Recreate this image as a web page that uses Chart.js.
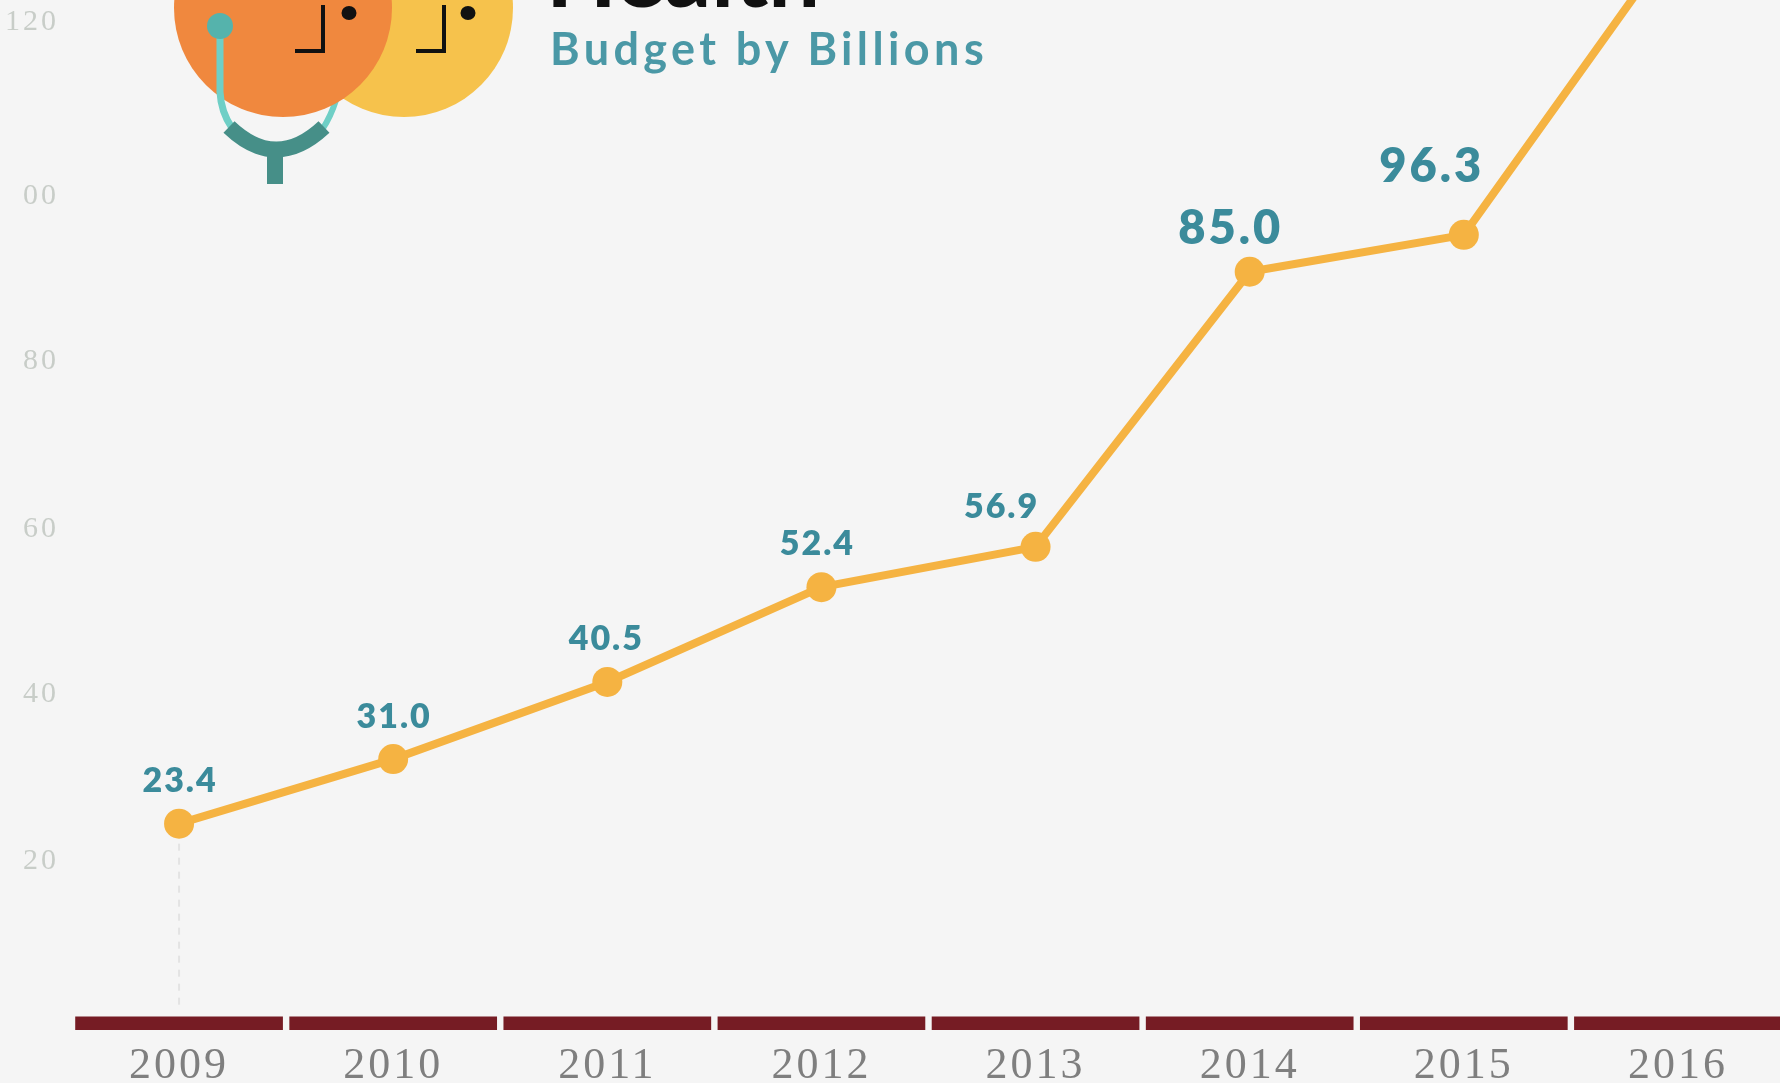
<!DOCTYPE html>
<html>
<head>
<meta charset="utf-8">
<title>Health - Budget by Billions</title>
<script src="https://cdn.jsdelivr.net/npm/chart.js@4/dist/chart.umd.min.js"></script>
<style>
    html, body { margin: 0; padding: 0; background: #f5f5f5; overflow: hidden; }
    #wrap { position: relative; width: 1780px; height: 1083px; overflow: hidden; }
    /* the canvas hangs off the page on top and right, the picture is a crop of a larger chart */
    canvas { position: absolute; left: 0; top: -15px; }
    svg { position: absolute; left: 0; top: 0; }
    .title { position: absolute; left: 546px; top: -78px; font: 700 92px/100px Lato, sans-serif; color: #111; white-space: nowrap; }
    .subtitle { position: absolute; left: 550px; top: 23px; font: 700 45px/50px Lato, sans-serif; letter-spacing: 4.4px; color: #4a98a6; white-space: nowrap; }
</style>
</head>
<body>
<div id="wrap">
    <canvas id="budgetChart" width="1800" height="1098"></canvas>
    <svg width="1780" height="1083">
        <ellipse cx="404" cy="8" rx="109" ry="109" fill="#f6c24c"/>
        <path d="M336 100 Q331 116 322 130" fill="none" stroke="#6fcfc6" stroke-width="6"/>
        <ellipse cx="283" cy="8" rx="109" ry="109" fill="#f0883e"/>
        <path d="M220 30 L220 92 Q221 112 232 128" fill="none" stroke="#6fcfc6" stroke-width="7"/>
        <ellipse cx="220" cy="26" rx="13" ry="13" fill="#55b3ac"/>
        <path d="M229 127 Q276 172 324 127" fill="none" stroke="#468f88" stroke-width="16"/>
        <rect x="267" y="150" width="16" height="34" fill="#468f88"/>
        <path d="M323 5 L323 51 L295 51" fill="none" stroke="#111" stroke-width="4"/>
        <ellipse cx="349" cy="13" rx="7.5" ry="7" fill="#111"/>
        <path d="M444 5 L444 51 L416 51" fill="none" stroke="#111" stroke-width="4"/>
        <ellipse cx="468" cy="13" rx="7.5" ry="7" fill="#111"/>
    </svg>
    <div class="title">Health</div>
    <div class="subtitle">Budget by Billions</div>
</div>

<script>
// the markers sit where they sit, the printed labels say something else for 2014/2015
const years = ['2009', '2010', '2011', '2012', '2013', '2014', '2015', '2016'];
const budgetValues = [24.1, 31.8, 41, 52.3, 57.1, 89.9, 94.3, 130];
const printedLabels = ['23.4', '31.0', '40.5', '52.4', '56.9', '85.0', '96.3', null];
// the ticks are not evenly spaced in the picture either
const yTickValues = [19.6, 39.6, 59.2, 79.3, 98.9, 119.7];
const yTickLabels = ['20', '40', '60', '80', '00', '120'];
const axisBand = [[-0.5, 1.1], [-0.5, 1.1], [-0.5, 1.1], [-0.5, 1.1], [-0.5, 1.1], [-0.5, 1.1], [-0.5, 1.1], [-0.5, 1.1]];

const TEAL = '#3b8b9b';
const ORANGE = '#f5b342';

// x/y nudge of every value label against its marker
const labelNudge = [[1, 43], [1, 42], [-1, 43], [-4, 43], [-34, 40], [-19, 43], [-32, 68]];

// the picture's serif digits are set wide, this carries over to the axis ticks
const wideTicks = {
    id: 'wideTicks',
    beforeDraw(chart) {
        chart.ctx.letterSpacing = '3px';
    }
};

const valueLabels = {
    id: 'valueLabels',
    afterDatasetsDraw(chart) {
        const ctx = chart.ctx;
        const meta = chart.getDatasetMeta(1);
        ctx.save();
        ctx.fillStyle = TEAL;
        ctx.textAlign = 'center';
        ctx.textBaseline = 'middle';
        printedLabels.forEach((txt, i) => {
            if (!txt) return;
            const pt = meta.data[i];
            ctx.font = (i >= 5 ? '800 47px' : '800 34px') + ' Lato, sans-serif';
            ctx.letterSpacing = i >= 5 ? '3px' : '2px';
            ctx.fillText(txt, pt.x + labelNudge[i][0], pt.y - labelNudge[i][1]);
        });
        ctx.restore();
    }
};

// faint dashed drop line under the first point only
const dropLine = {
    id: 'dropLine',
    beforeDatasetsDraw(chart) {
        const ctx = chart.ctx;
        const x = chart.scales.x.getPixelForValue(0);
        const y = chart.scales.y;
        ctx.save();
        ctx.strokeStyle = '#e3e3e3';
        ctx.lineWidth = 2;
        ctx.setLineDash([7, 7]);
        ctx.beginPath();
        ctx.moveTo(x, y.getPixelForValue(budgetValues[0]) + 20);
        ctx.lineTo(x, y.getPixelForValue(1.1) - 6);
        ctx.stroke();
        ctx.restore();
    }
};

new Chart(document.getElementById('budgetChart'), {
    type: 'bar',
    data: {
        labels: years,
        datasets: [
            {
                data: axisBand,
                backgroundColor: '#761c24',
                barPercentage: 0.97,
                categoryPercentage: 1,
                order: 2
            },
            {
                type: 'line',
                data: budgetValues,
                borderColor: ORANGE,
                backgroundColor: ORANGE,
                borderWidth: 8,
                tension: 0,
                pointRadius: 15,
                pointBorderWidth: 0,
                pointBackgroundColor: ORANGE,
                order: 1
            }
        ]
    },
    options: {
        responsive: false,
        animation: false,
        devicePixelRatio: 1,
        layout: { padding: 0 },
        plugins: { legend: { display: false }, tooltip: { enabled: false }, title: { display: false } },
        scales: {
            x: {
                offset: true,
                grid: { display: false, drawTicks: false },
                border: { display: false },
                afterFit: (scale) => {
                    scale.height = 53;
                    scale.paddingLeft = 0;
                    scale.paddingRight = 0;
                },
                ticks: {
                    autoSkip: false,
                    maxRotation: 0,
                    padding: 10,
                    color: '#7f7f7f',
                    font: { family: 'Liberation Serif', size: 44 }
                }
            },
            y: {
                min: -0.5,
                max: 122.3,
                grid: { display: false, drawTicks: false },
                border: { display: false },
                afterFit: (scale) => {
                    scale.width = 72;
                    scale.paddingTop = 0;
                    scale.paddingBottom = 0;
                },
                afterBuildTicks: (scale) => { scale.ticks = yTickValues.map(v => ({ value: v })); },
                ticks: {
                    padding: 13,
                    color: '#c8cdc8',
                    font: { family: 'Liberation Serif', size: 30 },
                    callback: (value) => yTickLabels[yTickValues.indexOf(value)]
                }
            }
        }
    },
    plugins: [wideTicks, dropLine, valueLabels]
});
</script>
</body>
</html>
